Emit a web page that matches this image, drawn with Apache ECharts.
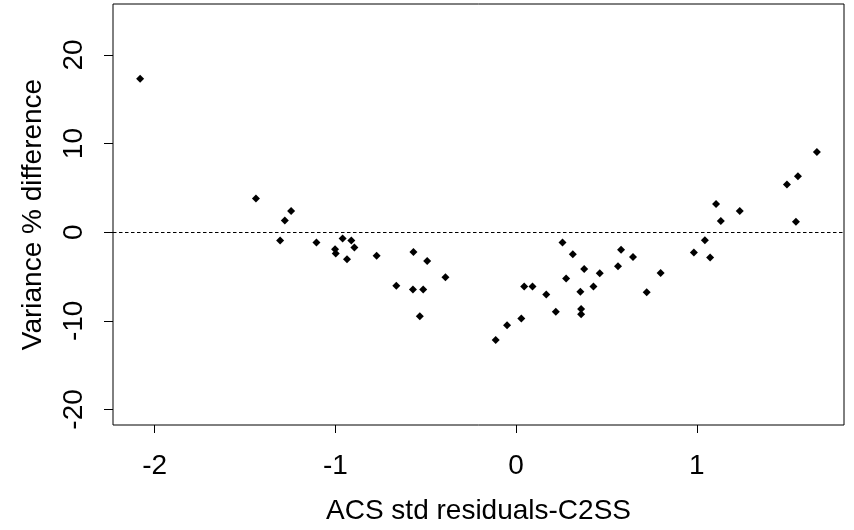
<!DOCTYPE html>
<html>
<head>
<meta charset="utf-8">
<script src="https://cdn.jsdelivr.net/npm/echarts@6/dist/echarts.min.js"></script>
<style>html,body{margin:0;padding:0;background:#fff}#c{width:854px;height:530px}</style>
</head>
<body>
<div id="c"></div>
<script>
const xValues = [-2.081,-1.440,-1.280,-1.245,-1.306,-1.105,-1.002,-0.998,-0.960,-0.912,-0.895,-0.936,-0.772,-0.568,-0.492,-0.663,-0.571,-0.514,-0.533,-0.391,
  -0.113,-0.050,0.029,0.045,0.091,0.167,0.220,0.257,0.277,0.314,0.356,0.360,0.360,0.377,0.428,0.463,0.564,0.581,0.647,0.723,0.800,
  0.984,1.045,1.074,1.107,1.133,1.238,1.499,1.560,1.549,1.665];
const yValues = [17.31,3.81,1.31,2.40,-0.93,-1.15,-1.91,-2.39,-0.71,-0.93,-1.72,-3.06,-2.65,-2.24,-3.25,-6.05,-6.46,-6.46,-9.48,-5.08,
  -12.17,-10.49,-9.75,-6.12,-6.12,-7.02,-8.97,-1.15,-5.22,-2.50,-6.73,-8.67,-9.26,-4.15,-6.12,-4.63,-3.85,-1.97,-2.80,-6.79,-4.60,
  -2.28,-0.90,-2.84,3.18,1.28,2.40,5.38,6.32,1.17,9.05];
const xTicks = [-2,-1,0,1];
const yTicks = [-20,-10,0,10,20];
const xTitle = 'ACS std residuals-C2SS';
const yTitle = 'Variance % difference';

const points = xValues.map((x,i)=>[x,yValues[i]]);
const font = 'Liberation Sans';
const chart = echarts.init(document.getElementById('c'), null, {renderer:'canvas'});
chart.setOption({
  animation:false,
  grid:{left:113,right:10,top:4,bottom:102,show:true,borderColor:'#000',borderWidth:1,containLabel:false},
  xAxis:{type:'value',min:-2.231,max:1.815,
    axisLine:{show:false,onZero:false},splitLine:{show:false},
    axisTick:{show:true,inside:false,length:8,lineStyle:{color:'#000'},customValues:xTicks},
    axisLabel:{show:true,margin:27,fontFamily:font,fontSize:28,color:'#000',customValues:xTicks,formatter:v=>String(v)},
    name:xTitle,nameLocation:'middle',nameGap:72,nameTextStyle:{fontFamily:font,fontSize:28,color:'#000'}},
  yAxis:{type:'value',min:-21.76,max:25.76,
    axisLine:{show:false,onZero:false},splitLine:{show:false},
    axisTick:{show:true,inside:false,length:9,lineStyle:{color:'#000'},customValues:yTicks},
    axisLabel:{show:true,rotate:90,margin:25,fontFamily:font,fontSize:28,color:'#000',customValues:yTicks,formatter:v=>String(v)},
    name:yTitle,nameLocation:'middle',nameGap:66,nameRotate:90,nameTextStyle:{fontFamily:font,fontSize:28,color:'#000'}},
  series:[{type:'scatter',data:points,symbol:'diamond',symbolSize:8,itemStyle:{color:'#000',opacity:1},
    markLine:{silent:true,symbol:['none','none'],label:{show:false},
      lineStyle:{color:'#000',width:1,type:[3.5,2.5]},data:[{yAxis:0}]}}]
});
</script>
</body>
</html>
